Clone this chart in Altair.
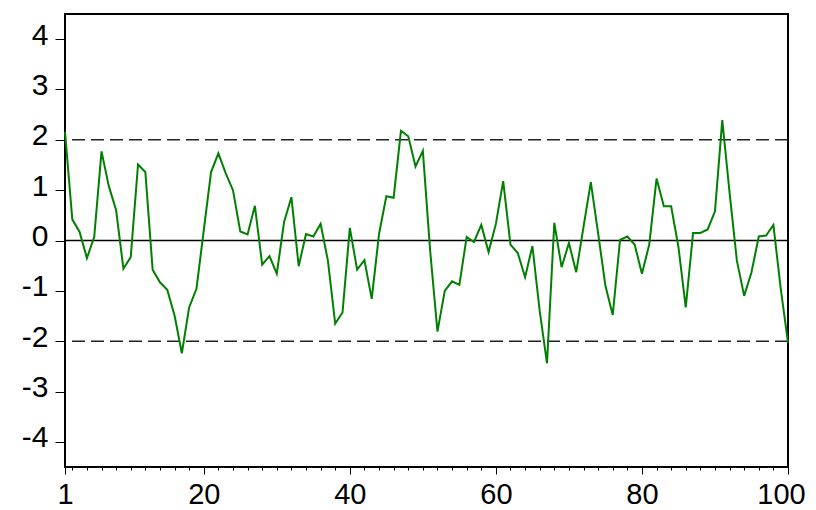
import altair as alt
import pandas as pd

# ---- data ----
obs = list(range(1, 101))
values = [
    2.16, 0.42, 0.17, -0.35, 0.07, 1.77, 1.08, 0.60, -0.56, -0.33,
    1.51, 1.36, -0.58, -0.83, -0.98, -1.49, -2.24, -1.33, -0.96, 0.20,
    1.36, 1.73, 1.34, 1.00, 0.18, 0.12, 0.69, -0.48, -0.31, -0.66,
    0.37, 0.86, -0.51, 0.13, 0.08, 0.33, -0.40, -1.65, -1.43, 0.25,
    -0.58, -0.39, -1.16, 0.13, 0.88, 0.85, 2.18, 2.07, 1.47, 1.78,
    -0.20, -1.81, -1.00, -0.81, -0.88, 0.07, -0.03, 0.31, -0.23, 0.33,
    1.18, -0.08, -0.25, -0.73, -0.11, -1.40, -2.44, 0.35, -0.53, -0.05,
    -0.63, 0.27, 1.16, 0.14, -0.90, -1.48, 0.01, 0.08, -0.08, -0.66,
    -0.08, 1.23, 0.68, 0.68, -0.13, -1.33, 0.15, 0.15, 0.22, 0.58,
    2.39, 0.95, -0.40, -1.10, -0.63, 0.08, 0.10, 0.31, -0.95, -2.03,
]
band_levels = [-2, 2]
zero_level = [0]
major_x_ticks = [1, 20, 40, 60, 80, 100]
minor_x_ticks = list(range(2, 101, 2))
y_ticks = [-4, -3, -2, -1, 0, 1, 2, 3, 4]

FONT = "Liberation Sans"

df = pd.DataFrame({"obs": obs, "value": values})
bands = pd.DataFrame({"level": band_levels})
zero = pd.DataFrame({"level": zero_level})

x_scale = alt.Scale(domain=[1, 100], nice=False, zero=False)
y_scale = alt.Scale(domain=[-4.5, 4.5], nice=False, zero=False)

all_x_ticks = sorted(set(major_x_ticks + minor_x_ticks))
major_str = "[" + ",".join(str(v) for v in major_x_ticks) + "]"
is_major = f"indexof({major_str}, datum.value) >= 0"

x_axis = alt.Axis(
    values=all_x_ticks,
    title=None,
    grid=False,
    domain=False,
    tickColor="black",
    tickWidth=1,
    tickSize={"condition": {"test": is_major, "value": 7}, "value": 3},
    labelExpr=f"{is_major} ? '' + datum.value : ''",
    labelFont=FONT,
    labelFontSize=29,
    labelColor="black",
    labelPadding=6,
    labelOffset={"condition": {"test": "datum.value == 100", "value": -7}, "value": 0},
    labelOverlap=False,
    labelFlush=False,
)

y_axis = alt.Axis(
    values=y_ticks,
    title=None,
    grid=False,
    domain=False,
    tickColor="black",
    tickWidth=1,
    tickSize=10,
    labelExpr="datum.value < 0 ? '-' + abs(datum.value) : '' + datum.value",
    labelFont=FONT,
    labelFontSize=30,
    labelColor="black",
    labelPadding=7,
    labelOffset=-4,
    labelOverlap=False,
    labelFlush=False,
)

line = alt.Chart(df).mark_line(color="#008000", strokeWidth=2).encode(
    x=alt.X("obs:Q", scale=x_scale, axis=x_axis),
    y=alt.Y("value:Q", scale=y_scale, axis=y_axis),
)

band_rules = alt.Chart(bands).mark_rule(
    color="#222222", strokeWidth=1.5, strokeDash=[13, 6]
).encode(y=alt.Y("level:Q", scale=y_scale))

zero_rule = alt.Chart(zero).mark_rule(color="black", strokeWidth=1.5).encode(
    y=alt.Y("level:Q", scale=y_scale)
)

chart = (
    alt.layer(band_rules, zero_rule, line)
    .properties(
        width=723,
        height=453,
        autosize=alt.AutoSizeParams(type="none"),
        padding={"left": 57, "top": 6, "right": 20, "bottom": 41},
        background="white",
    )
    .configure_view(stroke="black", strokeWidth=2)
)

chart.save("out.html", embed_options={"renderer": "svg", "actions": False})
